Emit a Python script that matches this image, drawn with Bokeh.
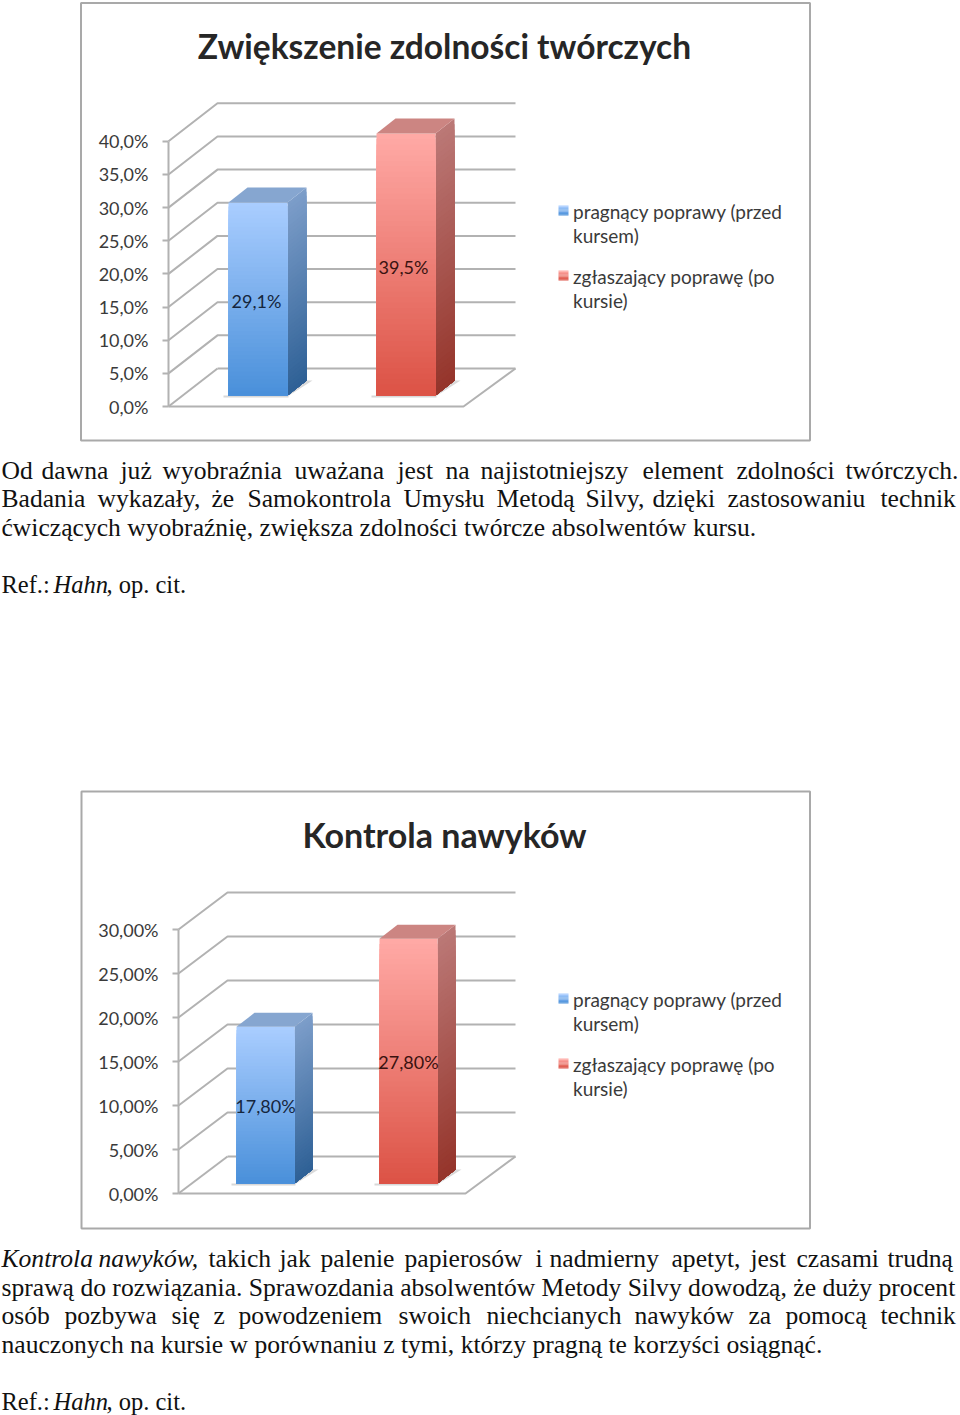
from bokeh.plotting import figure
from bokeh.layouts import column
from bokeh.models import LinearAxis, FixedTicker, Range1d
from bokeh.core.properties import value
from bokeh.embed import file_html
from bokeh.resources import INLINE

# ---- data ----
TITLE_A = "Zwiększenie zdolności twórczych"
TICKS_A = [0, 5, 10, 15, 20, 25, 30, 35, 40]
TICK_LABELS_A = ["0,0%", "5,0%", "10,0%", "15,0%", "20,0%", "25,0%", "30,0%", "35,0%", "40,0%"]
VALUES_A = [29.1, 39.5]
VALUE_LABELS_A = ["29,1%", "39,5%"]

TITLE_B = "Kontrola nawyków"
TICKS_B = [0, 5, 10, 15, 20, 25, 30]
TICK_LABELS_B = ["0,00%", "5,00%", "10,00%", "15,00%", "20,00%", "25,00%", "30,00%"]
VALUES_B = [17.8, 27.8]
VALUE_LABELS_B = ["17,80%", "27,80%"]

LEGEND_1 = ["pragnący poprawy (przed", "kursem)"]
LEGEND_2 = ["zgłaszający poprawę (po", "kursie)"]

P1_L1 = ["Od", "dawna", "już", "wyobraźnia", "uważana", "jest", "na", "najistotniejszy", "element", "zdolności", "twórczych."]
P1_L2 = ["Badania", "wykazały,", "że", "Samokontrola", "Umysłu", "Metodą", "Silvy,", "dzięki", "zastosowaniu", "technik"]
P1_L3 = "ćwiczących wyobraźnię, zwiększa zdolności twórcze absolwentów kursu."
P2_L1_IT = ["Kontrola", "nawyków,"]
P2_L1 = ["takich", "jak", "palenie", "papierosów", "i", "nadmierny", "apetyt,", "jest", "czasami", "trudną"]
P2_L2 = "sprawą do rozwiązania. Sprawozdania absolwentów Metody Silvy dowodzą, że duży procent"
P2_L3 = ["osób", "pozbywa", "się", "z", "powodzeniem", "swoich", "niechcianych", "nawyków", "za", "pomocą", "technik"]
P2_L4 = "nauczonych na kursie w porównaniu z tymi, którzy pragną te korzyści osiągnąć."
REF = ["Ref.:", "Hahn", ", op. cit."]

# ---- style ----
FONT = "Lato"
SERIF = "Liberation Serif"
BODY_SIZE = "25.6px"
GRID = "#b2b2b2"
BLUE = dict(front=("#A9CDFF", "#4A90DA"), side=("#7C9DC9", "#2F6196"), top="#86A6D0", text="#15263d")
RED = dict(front=("#FFA9A5", "#DC5346"), side=("#BB7876", "#95352B"), top="#CC8582", text="#3a1210")


def mix(a, b, t):
    ca = [int(a[i:i + 2], 16) for i in (1, 3, 5)]
    cb = [int(b[i:i + 2], 16) for i in (1, 3, 5)]
    return "#%02x%02x%02x" % tuple(round(x + (y - x) * t) for x, y in zip(ca, cb))


def make_chart(title, ticks, tick_labels, values, value_labels, g):
    h = g["bottom"] - g["top"]
    ppu = g["ppu"]
    zero = g["zero"]
    p = figure(width=960, height=h, x_range=Range1d(0, 960),
               y_range=Range1d((zero - g["bottom"]) / ppu, (zero - g["top"]) / ppu),
               x_axis_location=None, y_axis_location=None, tools="",
               toolbar_location=None, output_backend="svg", min_border=0)
    p.grid.visible = False
    p.outline_line_color = None
    Y = lambda px: (zero - px) / ppu

    # chart frame
    p.quad(left=g["fx0"], right=g["fx1"], top=Y(g["fy0"]), bottom=Y(g["fy1"]),
           fill_color=None, line_color="#a9a9a9", line_width=2)

    # back wall and floor
    ax = g["axis"]
    ddx, ddy = g["wall_dx"], g["wall_dy"] / ppu
    xs, ys = [], []
    for t in ticks:
        xs.append([ax, ax + ddx, g["wall_r"]] if t else [ax + ddx, g["wall_r"]])
        ys.append([t, t + ddy, t + ddy] if t else [ddy, ddy])
    p.multi_line(xs, ys, line_color=GRID, line_width=2)
    p.multi_line([[ax, g["floor_r"], g["wall_r"]], [ax, ax + ddx]],
                 [[0, 0, ddy], [0, ddy]], line_color=GRID, line_width=2)

    # axis
    axis = LinearAxis(ticker=FixedTicker(ticks=ticks), bounds=(ticks[0], ticks[-1]),
                      major_label_overrides=dict(zip(ticks, tick_labels)),
                      fixed_location=ax)
    axis.axis_line_color = GRID
    axis.axis_line_width = 2
    axis.major_tick_line_color = GRID
    axis.major_tick_line_width = 2
    axis.major_tick_in = 0
    axis.major_tick_out = 6
    axis.minor_tick_line_color = None
    axis.major_label_standoff = g["standoff"]
    axis.major_label_text_font = FONT
    axis.major_label_text_font_size = "18px"
    axis.major_label_text_color = "#3a3a3a"
    p.add_layout(axis, "left")

    # bars: bands are painted from the top down, each reaching to the bar's base,
    # so that the gradient has no seams
    base = g["bar_base"] / ppu
    d_x, d_y = g["bar_dx"], g["bar_dy"] / ppu
    n = 48
    for v, lab, x0, st, lx in zip(values, value_labels, g["bar_x"], (BLUE, RED), g["label_x"]):
        x1 = x0 + g["bar_w"]
        # floor shadow
        p.patch([x1, x1 + d_x + 6, x1 + d_x, x1],
                [base - 1 / ppu, base + d_y, base + d_y, base],
                fill_color="#cfcfcf", line_color=None, fill_alpha=0.8)
        p.quad(left=x0 - 5, right=x1 + 1, top=base, bottom=base - 2 / ppu,
               fill_color="#d8d8d8", line_color=None)
        step = v / n
        fronts, sides = [], []
        sx, sy = [], []
        tops = []
        for i in range(n - 1, -1, -1):
            hi = base + step * (i + 1)
            tops.append(hi)
            fronts.append(mix(st["front"][1], st["front"][0], i / (n - 1)))
            sides.append(mix(st["side"][1], st["side"][0], i / (n - 1)))
            sx.append([x1, x1 + d_x, x1 + d_x, x1])
            sy.append([base, base + d_y, hi + d_y, hi])
        p.patches(sx, sy, fill_color=sides, line_color=None)
        p.quad(left=x0, right=x1, top=tops, bottom=base, fill_color=fronts, line_color=None)
        ttop = base + v
        p.patch([x0, x0 + d_x, x1 + d_x, x1], [ttop, ttop + d_y, ttop + d_y, ttop],
                fill_color=st["top"], line_color=None)
        p.text([lx], [base + v / 2 - g["label_dy"] / ppu], text=[lab],
               text_font=value(FONT), text_font_size="18px", text_color=st["text"],
               text_align="center", text_baseline="middle")

    # title
    p.text([444], [Y(g["title_y"])], text=[title], text_font=value(FONT),
           text_font_size=g["title_size"], text_font_style="bold", text_color="#262626",
           text_align="center", text_baseline="middle")

    # legend
    for lines, st, ly in zip((LEGEND_1, LEGEND_2), (BLUE, RED), g["legend_y"]):
        p.quad(left=[558] * 8, right=[568] * 8,
               top=[Y(ly - 5 + i * 10 / 8) for i in range(8)],
               bottom=[Y(ly - 5 + (i + 1) * 10 / 8) for i in range(8)],
               fill_color=[mix(st["front"][0], st["front"][1], i / 7) for i in range(8)],
               line_color=None)
        for j, s in enumerate(lines):
            p.text([572.5], [Y(ly + 1 + j * 24)], text=[s], text_font=value(FONT),
                   text_font_size="19px", text_color="#3a3a3a",
                   text_align="left", text_baseline="middle")
    return p


def make_text(top, bottom):
    p = figure(width=960, height=bottom - top, x_range=Range1d(0, 960),
               y_range=Range1d(bottom, top), x_axis_location=None, y_axis_location=None,
               tools="", toolbar_location=None, output_backend="svg", min_border=0)
    p.grid.visible = False
    p.outline_line_color = None
    return p


def put(p, xs, y, words, style="normal", size=BODY_SIZE):
    p.text(xs, [y - 1] * len(xs), text=words, text_font=value(SERIF), text_font_size=size,
           text_font_style=style, text_color="#111111", text_align="left", text_baseline="middle")


def put_ref(p, y):
    put(p, [1], y, [REF[0]], size="24.5px")
    put(p, [53], y, [REF[1]], "italic", size="24.5px")
    put(p, [106], y, [REF[2]], size="24.5px")


chart_a = make_chart(TITLE_A, TICKS_A, TICK_LABELS_A, VALUES_A, VALUE_LABELS_A, dict(
    top=0, bottom=450, zero=406, ppu=6.63, fx0=80.5, fx1=809.5, fy0=2.5, fy1=440,
    axis=168, wall_dx=49, wall_dy=38, wall_r=515, floor_r=463, standoff=14,
    bar_x=[228, 376], bar_w=59, bar_base=11, bar_dx=19, bar_dy=15, label_x=[256, 403], label_dy=2,
    title_y=45, title_size="33.5px", legend_y=[210, 275]))

text_a = make_text(450, 785)
put(text_a, [1, 41, 120, 162, 294, 397, 445, 480, 642, 736, 845], 471, P1_L1)
put(text_a, [1, 97, 211, 247, 403, 496, 585, 652, 727, 880], 499, P1_L2)
put(text_a, [1], 528, [P1_L3])
put_ref(text_a, 585)

chart_b = make_chart(TITLE_B, TICKS_B, TICK_LABELS_B, VALUES_B, VALUE_LABELS_B, dict(
    top=785, bottom=1235, zero=1193, ppu=8.8, fx0=81, fx1=809.5, fy0=791, fy1=1228,
    axis=178, wall_dx=49, wall_dy=37, wall_r=515, floor_r=465, standoff=14,
    bar_x=[236, 379], bar_w=58, bar_base=10, bar_dx=18, bar_dy=14, label_x=[265, 408], label_dy=1,
    title_y=834, title_size="34px", legend_y=[998, 1063]))

text_b = make_text(1235, 1415)
put(text_b, [1, 98], 1259, P2_L1_IT, "italic")
put(text_b, [208, 279, 320, 404, 535, 549, 671, 750, 796, 887], 1259, P2_L1)
put(text_b, [1], 1288, [P2_L2])
put(text_b, [1, 64, 171, 213, 238, 398, 486, 634, 748, 785, 880], 1316, P2_L3)
put(text_b, [1], 1345, [P2_L4])
put_ref(text_b, 1402)

page = column(chart_a, text_a, chart_b, text_b, spacing=0,
              styles={"position": "absolute", "left": "0px", "top": "0px"})

open("out.html", "w").write(file_html(page, INLINE))
